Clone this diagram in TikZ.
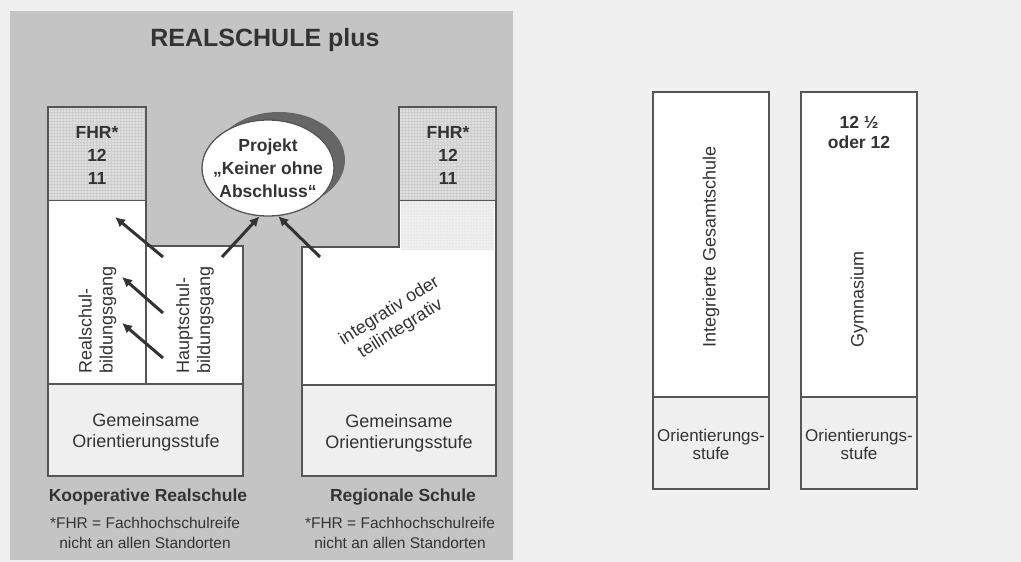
\documentclass[tikz,border=0pt]{standalone}
\usepackage{fontspec}
\setmainfont{Liberation Sans}
\usetikzlibrary{shapes.geometric,arrows.meta,patterns}
\definecolor{paper}{HTML}{F0F0F0}
\definecolor{panel}{HTML}{C4C4C4}
\definecolor{pale}{HTML}{EFEFEF}
\definecolor{fhr}{HTML}{DEDEDE}
\definecolor{mesh}{HTML}{CFCFCF}
\definecolor{ink}{HTML}{333333}
\definecolor{edge}{HTML}{555555}
\begin{document}
\begin{tikzpicture}[x=1pt,y=-1pt,
 box/.style={draw=edge,line width=1.3pt},
 txt/.style={text=ink,font=\fontsize{18}{21}\selectfont,align=center,inner sep=0},
 heavy/.style={txt,font=\fontsize{17.5}{23}\selectfont\bfseries},
 small/.style={txt,font=\fontsize{15.5}{20}\selectfont},
 push/.style={draw=ink,line width=3pt,-{Latex[length=10pt,width=10pt]}}]
 \useasboundingbox (0,0) rectangle (1021,562);
 \fill[paper] (0,0) rectangle (1021,562);
 \fill[panel] (10,11) rectangle (513,560);
 \node[txt,font=\fontsize{25}{30}\selectfont\bfseries] (title) at (265,40) {REALSCHULE plus};
 \filldraw[box,fill=white] (48,107)--(146,107)--(146,246)--(243,246)--(243,476)--(48,476)--cycle;
 \filldraw[box,fill=fhr] (48,107) rectangle (146,200);
 \fill[pattern=grid,pattern color=mesh] (49,108) rectangle (145,199);
 \filldraw[box,fill=pale] (48,384) rectangle (243,476);
 \draw[box] (146,246)--(146,384);
 \filldraw[box,fill=white] (302,247)--(399,247)--(399,107)--(496,107)--(496,476)--(302,476)--cycle;
 \fill[pale] (401,201) rectangle (494,250);
 \fill[pattern=dots,pattern color=mesh] (401,201) rectangle (494,250);
 \filldraw[box,fill=fhr] (399,107) rectangle (496,200);
 \fill[pattern=grid,pattern color=mesh] (400,108) rectangle (495,199);
 \filldraw[box,fill=pale] (302,385) rectangle (496,476);
 \fill[black!60] (279,160) ellipse [x radius=66pt,y radius=48pt];
 \node[ellipse,box,fill=white,minimum width=132pt,minimum height=96pt,inner sep=0] (proj) at (268,168) {};
 \node[heavy] (projtxt) at (proj) {Projekt\\„Keiner ohne\\Abschluss“};
 \node[heavy] (fhrl) at (97,155) {FHR*\\12\\11};
 \node[heavy] (fhrr) at (448,155) {FHR*\\12\\11};
 \node[txt,rotate=90,anchor=west,align=left] (rsg) at (97.5,374) {Realschul-\\bildungsgang};
 \node[txt,rotate=90,anchor=west,align=left] (hsg) at (195,374) {Hauptschul-\\bildungsgang};
 \node[txt,rotate=32] (integ) at (395,320) {integrativ oder\\teilintegrativ};
 \node[txt] (gosl) at (146,432) {Gemeinsame\\Orientierungsstufe};
 \node[txt] (gosr) at (399,433) {Gemeinsame\\Orientierungsstufe};
 \node[heavy] (kr) at (148,497) {Kooperative Realschule};
 \node[heavy] (rs) at (403,497) {Regionale Schule};
 \node[small] (fnl) at (145,533) {*FHR = Fachhochschulreife\\nicht an allen Standorten};
 \node[small] (fnr) at (400,533) {*FHR = Fachhochschulreife\\nicht an allen Standorten};
 \coordinate (h1) at (163,257); \coordinate (r1) at (115,217);
 \coordinate (h2) at (163,313); \coordinate (r2) at (122,277);
 \coordinate (h3) at (163,358); \coordinate (r3) at (122,323);
 \coordinate (h4) at (222,257);
 \coordinate (s1) at (320,257);
 \draw[push] (h1)--(r1);
 \draw[push] (h2)--(r2);
 \draw[push] (h3)--(r3);
 \draw[push] (h4)--(proj.260);
 \draw[push] (s1)--(proj.282);
 \filldraw[box,fill=white] (653,92) rectangle (769,397);
 \filldraw[box,fill=pale] (653,397) rectangle (769,489);
 \filldraw[box,fill=white] (801,92) rectangle (917,397);
 \filldraw[box,fill=pale] (801,397) rectangle (917,489);
 \node[txt,rotate=90,anchor=west] (igs) at (711,348) {Integrierte Gesamtschule};
 \node[txt,rotate=90,anchor=west] (gym) at (859,348) {Gymnasium};
 \node[heavy,font=\fontsize{17.5}{20}\selectfont\bfseries] (gymtop) at (859,132) {12 ½\\oder 12};
 \node[txt,font=\fontsize{17}{18}\selectfont] (osl) at (711,444) {Orientierungs-\\stufe};
 \node[txt,font=\fontsize{17}{18}\selectfont] (osr) at (859,444) {Orientierungs-\\stufe};
\end{tikzpicture}
\end{document}
